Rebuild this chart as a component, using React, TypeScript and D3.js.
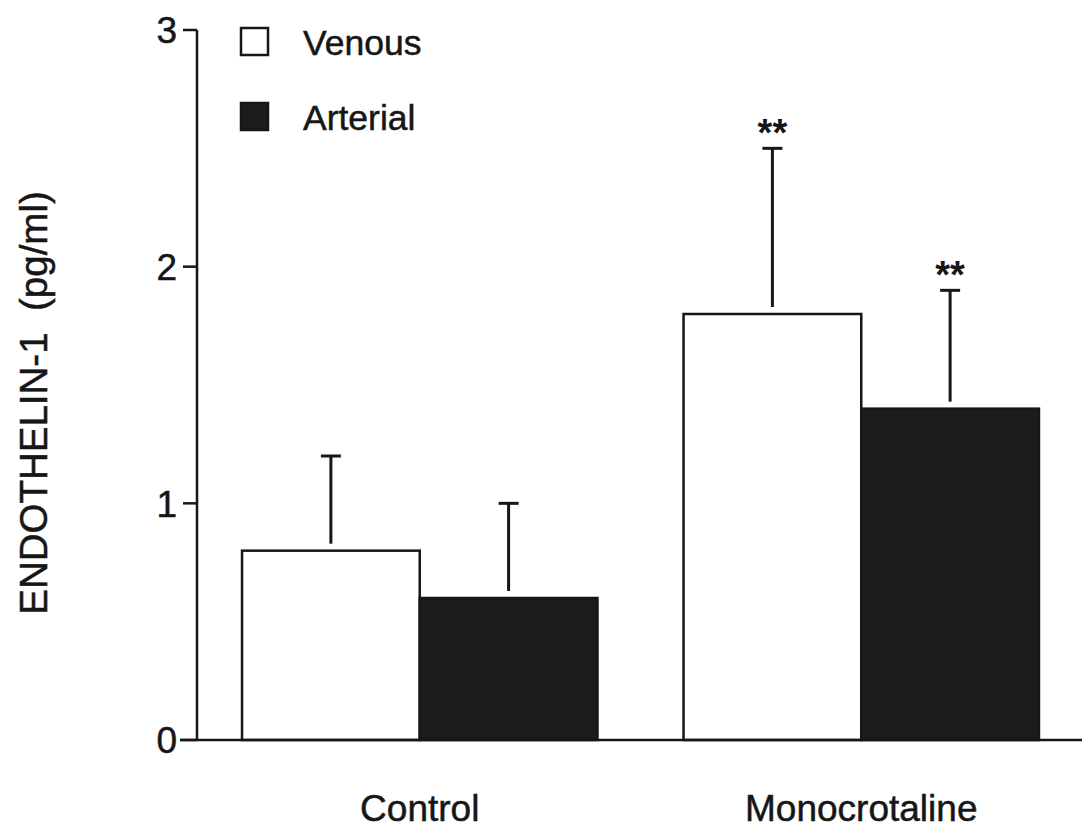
import React from "react";
import * as d3 from "d3";

// Endothelin-1 plasma levels, mean ± SD
const groups = ["Control", "Monocrotaline"];
const seriesNames = ["Venous", "Arterial"];
const venousMean = [0.8, 1.8];
const venousSD = [0.4, 0.7];
const arterialMean = [0.6, 1.4];
const arterialSD = [0.4, 0.5];
const significance = ["", "**"]; // per group, for both series
const yTicks = [0, 1, 2, 3];

const W = 1082;
const H = 833;
const FONT = "'Liberation Sans', Arial, Helvetica, sans-serif";

export default function App() {
  const axisX = 197;
  const baseY = 740;
  const y = d3.scaleLinear().domain([0, 3]).range([baseY, 30]);
  const x0 = d3
    .scaleBand<string>()
    .domain(groups)
    .range([axisX, 1084])
    .paddingInner(0.195)
    .paddingOuter(0.102);
  const x1 = d3
    .scaleBand<string>()
    .domain(seriesNames)
    .range([0, x0.bandwidth()]);

  const series = [
    { name: "Venous", mean: venousMean, sd: venousSD, fill: "#ffffff" },
    { name: "Arterial", mean: arterialMean, sd: arterialSD, fill: "#1c1c1c" },
  ];

  const ink = "#161616";
  const textStroke = { stroke: ink, strokeWidth: 0.5 };

  return (
    <svg
      width={W}
      height={H}
      viewBox={`0 0 ${W} ${H}`}
      style={{ position: "absolute", left: 0, top: 0, background: "#fff" }}
      fontFamily={FONT}
    >
      <rect x={0} y={0} width={W} height={H} fill="#fff" />

      {/* bars */}
      {series.map((s) =>
        groups.map((g, i) => {
          const bx = (x0(g) as number) + (x1(s.name) as number);
          const bw = x1.bandwidth();
          const top = y(s.mean[i]);
          const cx = bx + bw / 2;
          const errTop = y(s.mean[i] + s.sd[i]);
          return (
            <g key={s.name + g}>
              <rect
                x={bx}
                y={top}
                width={bw}
                height={baseY - top}
                fill={s.fill}
                stroke={ink}
                strokeWidth={2.5}
              />
              <line x1={cx} x2={cx} y1={top - 7} y2={errTop} stroke={ink} strokeWidth={3} />
              <line x1={cx - 10} x2={cx + 10} y1={errTop} y2={errTop} stroke={ink} strokeWidth={3} />
              {significance[i] && (
                <text
                  x={cx}
                  y={errTop - 2}
                  textAnchor="middle"
                  fontSize={38}
                  fontWeight="bold"
                  fill={ink}
                >
                  {significance[i]}
                </text>
              )}
            </g>
          );
        })
      )}

      {/* y axis */}
      <line x1={axisX} x2={axisX} y1={y(3)} y2={baseY} stroke={ink} strokeWidth={2.5} />
      {yTicks.map((t) => (
        <g key={t}>
          <line
            x1={t === 0 ? 180 : 183}
            x2={axisX}
            y1={y(t)}
            y2={y(t)}
            stroke={ink}
            strokeWidth={2.5}
          />
          <text
            x={177}
            y={y(t)}
            dy="0.36em"
            textAnchor="end"
            fontSize={37}
            fill={ink}
            {...textStroke}
          >
            {t}
          </text>
        </g>
      ))}

      {/* x axis */}
      <line x1={180} x2={1082} y1={baseY} y2={baseY} stroke={ink} strokeWidth={2.5} />
      {groups.map((g) => (
        <text
          key={g}
          x={(x0(g) as number) + x0.bandwidth() / 2}
          y={821}
          textAnchor="middle"
          fontSize={37}
          fill={ink}
          {...textStroke}
        >
          {g}
        </text>
      ))}

      {/* y axis title */}
      <text
        transform={`translate(47, 403) rotate(-90)`}
        textAnchor="middle"
        fontSize={38.5}
        fill={ink}
        style={{ whiteSpace: "pre" }}
        {...textStroke}
      >
        {"ENDOTHELIN-1  (pg/ml)"}
      </text>

      {/* legend */}
      {series.map((s, i) => (
        <g key={s.name} transform={`translate(241, ${28 + i * 75})`}>
          <rect
            x={0}
            y={0}
            width={27}
            height={27}
            fill={s.fill}
            stroke={ink}
            strokeWidth={2.5}
          />
          <text x={62} y={27} fontSize={35.5} fill={ink} {...textStroke}>
            {s.name}
          </text>
        </g>
      ))}
    </svg>
  );
}
